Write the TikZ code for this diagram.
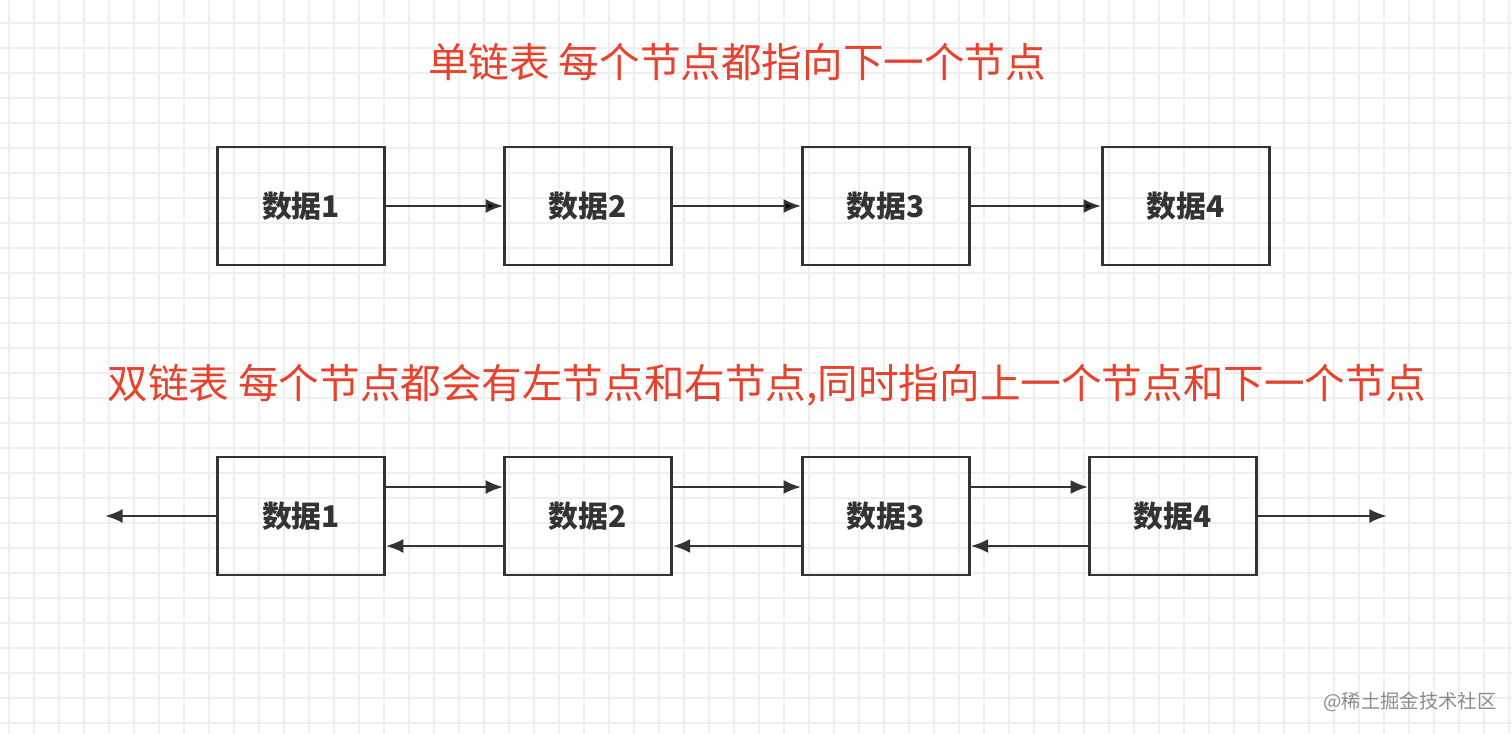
\documentclass[tikz,border=0pt]{standalone}
\usepackage{fontspec}
\setmainfont{Noto Sans CJK SC}
\usetikzlibrary{positioning,arrows.meta}
\definecolor{titlered}{HTML}{E8412C}
\definecolor{linegray}{HTML}{333333}
\definecolor{gridgray}{HTML}{EFEFEF}
\begin{document}
\begin{tikzpicture}[x=0.02cm,y=-0.02cm,on grid,
    box/.style={draw=linegray,line width=1.4pt,minimum width=3.34cm,minimum height=2.36cm,
      font=\fontsize{17}{20}\selectfont\bfseries,text=linegray},
    title/.style={text=titlered,font=\fontsize{23.1}{27}\selectfont},
    link/.style={-{Latex[length=10pt,width=8pt]},draw=linegray,line width=1.5pt}]
    \useasboundingbox (0,0) rectangle (1512,734);
    % grid
    \foreach \gx in {0,...,60} \draw[gridgray,line width=0.8pt] (9+25*\gx,0) -- (9+25*\gx,734);
    \foreach \gy in {0,...,28} \draw[gridgray,line width=0.8pt] (0,23+25*\gy) -- (1512,23+25*\gy);
    % singly linked
    \node[title] (t_single) at (737,62) {单链表 每个节点都指向下一个节点};
    \node[box] (s_1) at (301,206) {数据1};
    \node[box] (s_2) [right=5.74cm of s_1] {数据2};
    \node[box] (s_3) [right=5.96cm of s_2] {数据3};
    \node[box] (s_4) [right=6cm of s_3] {数据4};
    \path[link]
    (s_1) edge (s_2)
    (s_2) edge (s_3)
    (s_3) edge (s_4)
    ; %end path
    % doubly linked
    \node[title] (t_double) at (767,385) {双链表 每个节点都会有左节点和右节点,同时指向上一个节点和下一个节点};
    \node[box] (d_1) at (301,516) {数据1};
    \node[box] (d_2) [right=5.74cm of d_1] {数据2};
    \node[box] (d_3) [right=5.96cm of d_2] {数据3};
    \node[box] (d_4) [right=5.74cm of d_3] {数据4};
    \coordinate (d_left) at (105,516);
    \coordinate (d_right) at (1387,516);
    \foreach \a/\b in {1/2,2/3,3/4} {
      \draw[link] ([yshift=0.58cm]d_\a.east) -- ([yshift=0.58cm]d_\b.west);
      \draw[link] ([yshift=-0.6cm]d_\b.west) -- ([yshift=-0.6cm]d_\a.east);
    }
    \draw[link] (d_1) -- (d_left);
    \draw[link] (d_4) -- (d_right);
    % watermark
    \node[text=black!45,font=\fontsize{11}{13}\selectfont] (mark) at (1410,702) {@稀土掘金技术社区};
\end{tikzpicture}
\end{document}
